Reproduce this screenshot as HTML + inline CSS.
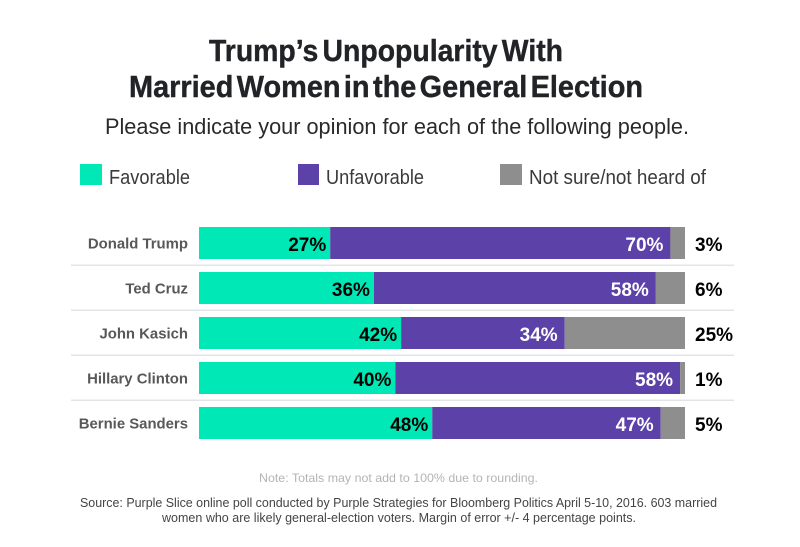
<!DOCTYPE html>
<html lang="en">
<head>
<meta charset="utf-8">
<title>Trump's Unpopularity With Married Women in the General Election</title>
<style>
html,body{margin:0;padding:0;background:#fff;}
svg{display:block;font-family:"Liberation Sans",sans-serif;}
</style>
</head>
<body>
<svg id="chart" width="800" height="547" viewBox="0 0 800 547" xmlns="http://www.w3.org/2000/svg">
  <rect x="0" y="0" width="800" height="547" fill="#ffffff"/>
  <text x="386" y="61" text-anchor="middle" font-size="31" font-weight="700" word-spacing="-4" fill="#212327" stroke="#212327" stroke-width="0.4" textLength="354" lengthAdjust="spacingAndGlyphs">Trump’s Unpopularity With</text>
  <text x="386" y="97" text-anchor="middle" font-size="31" font-weight="700" word-spacing="-5" fill="#212327" stroke="#212327" stroke-width="0.4" textLength="514" lengthAdjust="spacingAndGlyphs">Married Women in the General Election</text>
  <text x="397" y="134" text-anchor="middle" font-size="22" fill="#2a2a2c" textLength="584" lengthAdjust="spacingAndGlyphs">Please indicate your opinion for each of the following people.</text>

  <g>
    <rect x="80" y="164" width="22" height="21" fill="#00e8b5"/>
    <text x="109" y="184" font-size="20" fill="#3a3a3c" textLength="81" lengthAdjust="spacingAndGlyphs">Favorable</text>
    <rect x="298" y="164" width="21" height="21" fill="#5b41a8"/>
    <text x="326" y="184" font-size="20" fill="#3a3a3c" textLength="98" lengthAdjust="spacingAndGlyphs">Unfavorable</text>
    <rect x="500" y="164" width="22" height="21" fill="#8e8e8e"/>
    <text x="529" y="184" font-size="20" fill="#3a3a3c" textLength="177" lengthAdjust="spacingAndGlyphs">Not sure/not heard of</text>
  </g>

  <g id="plot"></g>

  <text x="398.5" y="482" text-anchor="middle" font-size="12" fill="#b4b4b4" textLength="279" lengthAdjust="spacingAndGlyphs">Note: Totals may not add to 100% due to rounding.</text>
  <text x="398.5" y="507" text-anchor="middle" font-size="13" fill="#444446" textLength="637" lengthAdjust="spacingAndGlyphs">Source: Purple Slice online poll conducted by Purple Strategies for Bloomberg Politics April 5-10, 2016. 603 married</text>
  <text x="399" y="522" text-anchor="middle" font-size="13" fill="#444446" textLength="474" lengthAdjust="spacingAndGlyphs">women who are likely general-election voters. Margin of error +/- 4 percentage points.</text>
</svg>
<script>
const categories = ["Donald Trump", "Ted Cruz", "John Kasich", "Hillary Clinton", "Bernie Sanders"];
const favorable = [27, 36, 42, 40, 48];
const unfavorable = [70, 58, 34, 58, 47];
const notSure = [3, 6, 25, 1, 5];

const svgNS = "http://www.w3.org/2000/svg";
const plot = document.getElementById("plot");

const barLeft = 199, barRight = 685;
const rowTop = 227, rowStep = 45, barHeight = 32;

function xScale(share, total) {
  return barLeft + (share / total) * (barRight - barLeft);
}
function yScale(index) {
  return rowTop + index * rowStep;
}
function make(tag, attrs, text) {
  const el = document.createElementNS(svgNS, tag);
  for (const key in attrs) el.setAttribute(key, attrs[key]);
  if (text !== undefined) el.textContent = text;
  plot.appendChild(el);
  return el;
}

categories.forEach(function (name, i) {
  const total = favorable[i] + unfavorable[i] + notSure[i];
  const y = yScale(i);
  const x1 = xScale(favorable[i], total);
  const x2 = xScale(favorable[i] + unfavorable[i], total);

  const label = make("text", {x: 188, y: y + 21.5, "text-anchor": "end", "font-size": 14.9, "font-weight": 700, fill: "#58585a"}, name);
  
  

  const favBar = make("rect", {x: barLeft, y: y, width: x1 - barLeft, height: barHeight, fill: "#00e8b5"});
  
  

  const unfavBar = make("rect", {x: x1, y: y, width: x2 - x1, height: barHeight, fill: "#5b41a8"});
  
  

  const unsureBar = make("rect", {x: x2, y: y, width: barRight - x2, height: barHeight, fill: "#8e8e8e"});
  
  

  const favValue = make("text", {x: x1 - 4, y: y + 24, "text-anchor": "end", "font-size": 19, "font-weight": 700, fill: "#000000"}, favorable[i] + "%");
  
  

  const unfavValue = make("text", {x: x2 - 7, y: y + 24, "text-anchor": "end", "font-size": 19, "font-weight": 700, fill: "#ffffff"}, unfavorable[i] + "%");
  
  

  const unsureValue = make("text", {x: 695, y: y + 24, "font-size": 19, "font-weight": 700, fill: "#000000"}, notSure[i] + "%");
  
  

  if (i < categories.length - 1) {
    const rule = make("rect", {x: 71, y: y + barHeight + 5.5, width: 663, height: 1.5, fill: "#e2e4e7"});
    
    
  }
});
</script>
</body>
</html>
